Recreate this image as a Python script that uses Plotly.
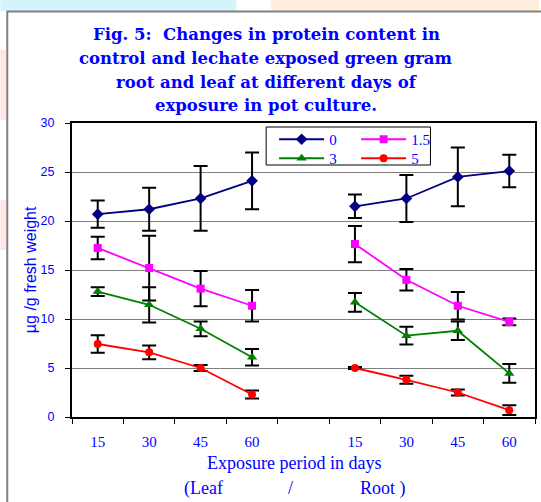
import plotly.graph_objects as go

days = ["15", "30", "45", "60"]
series_names = ["0", "1.5", "3", "5"]

leaf_0 = [20.7, 21.2, 22.3, 24.1]
leaf_0_err = [1.4, 2.2, 3.3, 2.9]
root_0 = [21.5, 22.3, 24.5, 25.1]
root_0_err = [1.2, 2.4, 3.0, 1.65]

leaf_15 = [17.25, 15.2, 13.1, 11.35]
leaf_15_err = [1.15, 3.3, 1.8, 1.6]
root_15 = [17.65, 14.0, 11.35, 9.7]
root_15_err = [1.85, 1.1, 1.4, 0.35]

leaf_3 = [12.8, 11.45, 9.0, 6.1]
leaf_3_err = [0.45, 1.8, 0.75, 0.85]
root_3 = [11.7, 8.3, 8.8, 4.45]
root_3_err = [0.95, 0.9, 0.95, 0.95]

leaf_5 = [7.45, 6.6, 5.0, 2.3]
leaf_5_err = [0.9, 0.7, 0.3, 0.4]
root_5 = [5.0, 3.8, 2.5, 0.7]
root_5_err = [0.1, 0.4, 0.3, 0.5]

title_lines = [
    "Fig. 5:  Changes in protein content in",
    "control and lechate exposed green gram",
    "root and leaf at different days of",
    "exposure in pot culture.",
]

leaf_pos = [1, 2, 3, 4]
root_pos = [6, 7, 8, 9]
xs = leaf_pos + [None] + root_pos

styles = [
    dict(color="#000080", symbol="diamond", size=9, legend="legend"),
    dict(color="#ff00ff", symbol="square", size=8, legend="legend"),
    dict(color="#008000", symbol="triangle-up", size=9, legend="legend2"),
    dict(color="#ff0000", symbol="circle", size=8, legend="legend2"),
]
data = [
    (leaf_0, leaf_0_err, root_0, root_0_err),
    (leaf_15, leaf_15_err, root_15, root_15_err),
    (leaf_3, leaf_3_err, root_3, root_3_err),
    (leaf_5, leaf_5_err, root_5, root_5_err),
]

fig = go.Figure()
for name, st, (lv, le, rv, re) in zip(series_names, styles, data):
    fig.add_trace(go.Scatter(
        x=xs, y=lv + [None] + rv, name=name, mode="lines+markers",
        connectgaps=False,
        line=dict(color=st["color"], width=1.8),
        marker=dict(color=st["color"], symbol=st["symbol"], size=st["size"]),
        error_y=dict(type="data", array=le + [None] + re, visible=True,
                     color="black", thickness=2, width=7),
        legend=st["legend"],
    ))

W, H = 541, 502
L, R, T, B = 72, 4, 123, 85
pw, ph = W - L - R, H - T - B

def px(x):
    return (x - L) / pw

def py(y):
    return (H - B - y) / ph

blue = "#0000ff"
serif = "Liberation Serif, Times New Roman, serif"
tserif = "DejaVu Serif, serif"
sans = "Liberation Sans, Arial, sans-serif"

leg_common = dict(orientation="h", xanchor="left", yanchor="top",
                  bgcolor="rgba(0,0,0,0)", borderwidth=0, entrywidth=22,
                  entrywidthmode="pixels", itemwidth=45, tracegroupgap=0,
                  font=dict(family=serif, size=15, color=blue))

annotations = [
    dict(text=t, xref="paper", yref="paper", x=px(267), y=py(35 + 23.6 * i),
         showarrow=False, xanchor="center", yanchor="middle",
         font=dict(family=tserif, size=16.5, color=blue, weight="bold"))
    for i, t in enumerate(title_lines)
]
annotations += [
    dict(text="µg /g fresh weight", xref="paper", yref="paper", x=px(30), y=py(270),
         textangle=-90, showarrow=False, xanchor="center", yanchor="middle",
         font=dict(family=sans, size=16, color=blue)),
    dict(text="Exposure period in days", xref="paper", yref="paper", x=px(295), y=py(463),
         showarrow=False, xanchor="center", yanchor="middle",
         font=dict(family=serif, size=18, color=blue)),
    dict(text="(Leaf", xref="paper", yref="paper", x=px(204), y=py(488),
         showarrow=False, xanchor="center", yanchor="middle",
         font=dict(family=serif, size=18, color=blue)),
    dict(text="/", xref="paper", yref="paper", x=px(291), y=py(488),
         showarrow=False, xanchor="center", yanchor="middle",
         font=dict(family=serif, size=18, color=blue)),
    dict(text="Root )", xref="paper", yref="paper", x=px(384), y=py(488),
         showarrow=False, xanchor="center", yanchor="middle",
         font=dict(family=serif, size=18, color=blue)),
]

fig.update_layout(
    width=W, height=H,
    margin=dict(l=L, r=R, t=T, b=B),
    paper_bgcolor="white", plot_bgcolor="white",
    showlegend=True,
    legend=dict(x=px(275), y=py(123), **leg_common),
    legend2=dict(x=px(275), y=py(142), **leg_common),
    xaxis=dict(
        range=[0.5, 9.5], tickmode="array", tickvals=leaf_pos + root_pos,
        ticktext=days + days, ticks="outside", ticklen=10, tickcolor="rgba(0,0,0,0)",
        tickfont=dict(family=serif, size=15, color=blue),
        showgrid=False, zeroline=False, showline=True, linecolor="black", linewidth=2,
        mirror=True,
        minor=dict(tickmode="array", tickvals=[i + 0.5 for i in range(10)],
                   ticks="outside", ticklen=5, tickcolor="black", tickwidth=1, showgrid=False),
    ),
    yaxis=dict(
        range=[0, 30], tickmode="linear", tick0=0, dtick=5,
        ticks="outside", ticklen=5, tickcolor="black", tickwidth=1,
        tickfont=dict(family=sans, size=12.5, color=blue), ticklabelstandoff=8,
        showgrid=True, gridcolor="#808080", gridwidth=1,
        zeroline=False, showline=True, linecolor="black", linewidth=2, mirror=True,
    ),
    shapes=[
        dict(type="rect", xref="paper", yref="paper", x0=px(0), x1=px(237), y0=py(11), y1=py(0),
             fillcolor="#d4f4fc", line=dict(width=0), layer="below"),
        dict(type="rect", xref="paper", yref="paper", x0=px(272), x1=px(541), y0=py(11), y1=py(0),
             fillcolor="#ffeedd", line=dict(width=0), layer="below"),
        dict(type="rect", xref="paper", yref="paper", x0=px(0), x1=px(6), y0=py(120), y1=py(50),
             fillcolor="#ffe6e6", line=dict(width=0), layer="below"),
        dict(type="rect", xref="paper", yref="paper", x0=px(0), x1=px(6), y0=py(250), y1=py(200),
             fillcolor="#ffe6e6", line=dict(width=0), layer="below"),
        dict(type="rect", xref="paper", yref="paper", x0=px(7), x1=px(560), y0=py(520), y1=py(11.5),
             fillcolor="rgba(0,0,0,0)", line=dict(color="#808080", width=2), layer="below"),
        dict(type="rect", xref="paper", yref="paper", x0=px(267), x1=px(432), y0=py(165), y1=py(127),
             fillcolor="rgba(0,0,0,0)", line=dict(color="black", width=1)),
    ],
    annotations=annotations,
)

fig.write_html("out.html")
